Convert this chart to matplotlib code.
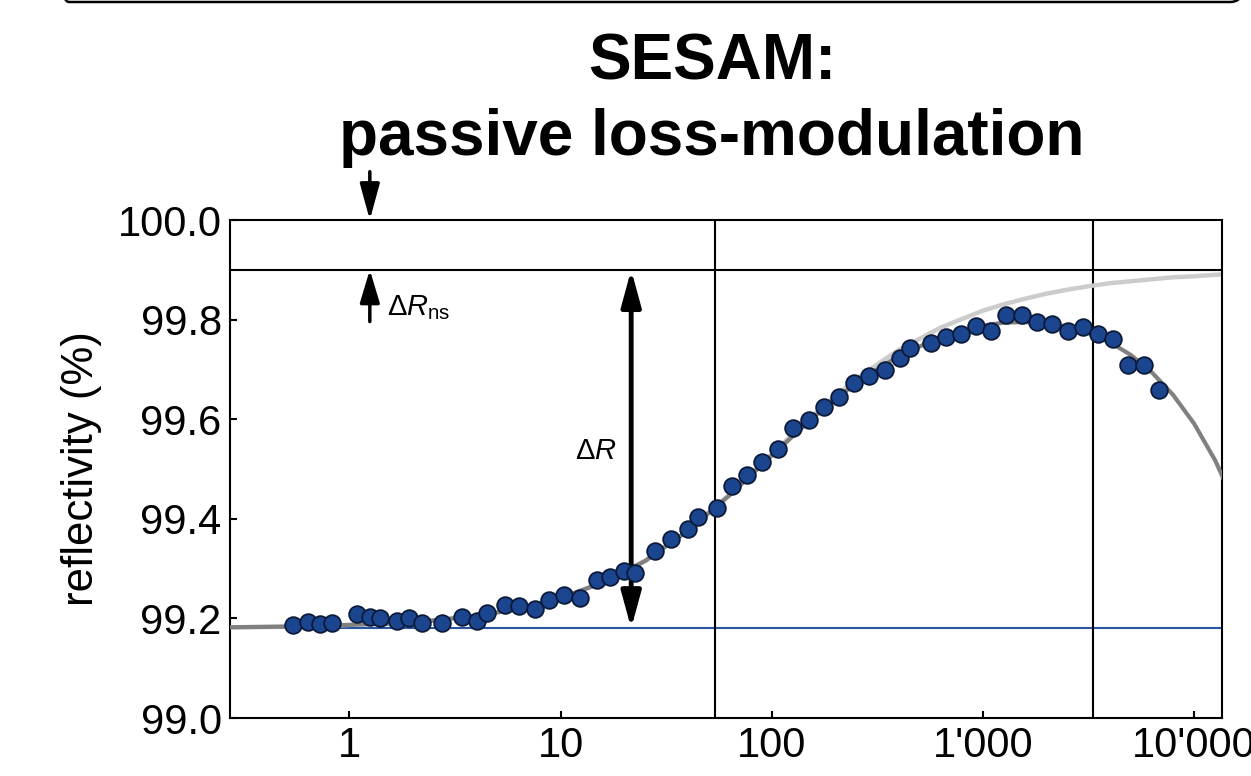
import matplotlib
matplotlib.use("Agg")
import matplotlib.pyplot as plt
from matplotlib.patches import FancyBboxPatch

plt.rcParams['font.family'] = ['Liberation Sans', 'DejaVu Sans']
plt.rcParams['mathtext.fontset'] = 'custom'
plt.rcParams['mathtext.rm'] = 'Liberation Sans'
plt.rcParams['mathtext.it'] = 'Liberation Sans:italic'

# measured points: fluence (uJ/cm^2) vs reflectivity (%)
fluence = [0.54, 0.64, 0.727, 0.831, 1.09, 1.25, 1.39, 1.69, 1.92, 2.22,
           2.75, 3.41, 4.01, 4.47, 5.46, 6.36, 7.55, 8.82, 10.4, 12.3,
           14.9, 17.1, 19.9, 22.5, 28.1, 33.4, 40.0, 44.9, 54.9, 64.7,
           76.6, 90.3, 107.5, 126.6, 149.7, 176.3, 208.9, 246.1, 288.9, 342.8,
           406.3, 451.6, 565.9, 666.7, 785, 931, 1096, 1291, 1527, 1797,
           2131, 2521, 2968, 3496, 4130, 4881, 5792, 6843]
refl = [99.187, 99.192, 99.188, 99.191, 99.208, 99.202, 99.201, 99.195, 99.201, 99.190,
        99.191, 99.203, 99.195, 99.210, 99.226, 99.224, 99.218, 99.236, 99.246, 99.241,
        99.277, 99.283, 99.295, 99.292, 99.335, 99.359, 99.380, 99.404, 99.422, 99.466,
        99.488, 99.514, 99.541, 99.583, 99.598, 99.625, 99.645, 99.672, 99.686, 99.699,
        99.722, 99.742, 99.754, 99.765, 99.771, 99.787, 99.778, 99.809, 99.810, 99.795,
        99.792, 99.777, 99.785, 99.771, 99.761, 99.708, 99.709, 99.658]

# fit curves
fit_F = [0.251, 0.398, 0.631, 1.0, 1.585, 2.512, 3.981, 6.31, 10.0, 15.85,
         25.12, 39.81, 63.1, 100, 158.5, 251.2, 398.1, 631, 1000, 1259,
         1585, 1995, 2512, 3162, 3981, 5012, 6310, 7943, 10000, 12590, 15850]
fit_sat = [99.182, 99.183, 99.184, 99.187, 99.190, 99.196, 99.205, 99.219, 99.241, 99.272,
           99.316, 99.376, 99.449, 99.530, 99.610, 99.681, 99.739, 99.784, 99.818, 99.831,
           99.842, 99.852, 99.860, 99.867, 99.873, 99.877, 99.881, 99.885, 99.887, 99.890, 99.891]
fit_tpa = [99.182, 99.183, 99.184, 99.187, 99.190, 99.196, 99.205, 99.219, 99.241, 99.272,
           99.315, 99.375, 99.447, 99.527, 99.605, 99.673, 99.727, 99.765, 99.788, 99.794,
           99.795, 99.793, 99.786, 99.773, 99.755, 99.729, 99.694, 99.649, 99.591, 99.517, 99.423]

R_ns = 99.90
R_lin = 99.18
v_lines = [54.0, 3315]
xticks = [1, 10, 100, 1000, 10000]
xticklabels = ["1", "10", "100", "1'000", "10'000"]
yticks = [99.0, 99.2, 99.4, 99.6, 99.8, 100.0]
arrow_x = 1.25
dR_x = 21.6

fig = plt.figure(figsize=(12.51, 7.76), dpi=100)
ax = fig.add_axes([230/1251, 58/776, 992/1251, 498/776])

ax.plot(fit_F, fit_sat, color='#cccccc', lw=3.2, zorder=2)
ax.plot(fit_F, fit_tpa, color='#808080', lw=3, zorder=3)
ax.axhline(R_lin, color='#2a55a5', lw=1.5, zorder=1)
ax.axhline(R_ns, color='k', lw=1.5, zorder=1)
for v in v_lines:
    ax.axvline(v, color='k', lw=1.5, zorder=1)
ax.plot(fluence, refl, 'o', ms=12, mfc='#1c4590', mec='#0b1a38', mew=1.3, zorder=5)

ax.set_xscale('log')
ax.set_xlim(0.2722, 13550)
ax.set_ylim(99.0, 100.0)
ax.set_xticks(xticks)
ax.set_xticklabels(xticklabels)
ax.minorticks_off()
ax.set_yticks(yticks)
ax.set_yticklabels([f"{t:.1f}" for t in yticks])
ax.tick_params(direction='in', length=5, width=1.5, labelsize=30, pad=6,
               top=False, right=False)
for s in ax.spines.values():
    s.set_linewidth(1.5)
ax.set_ylabel('reflectivity (%)', fontsize=31.5)
ax.yaxis.set_label_coords(-0.129, 0.5)

# arrows
ax.annotate('', xy=(arrow_x, 100.0), xytext=(arrow_x, 100.097), annotation_clip=False,
            arrowprops=dict(arrowstyle='-|>,head_length=1.1,head_width=0.3', lw=2.5,
                            color='k', shrinkA=0, shrinkB=0, mutation_scale=20))
ax.annotate('', xy=(arrow_x, R_ns), xytext=(arrow_x, 99.796),
            arrowprops=dict(arrowstyle='-|>,head_length=1.0,head_width=0.3', lw=2.5,
                            color='k', shrinkA=0, shrinkB=0, mutation_scale=20))
ax.annotate('', xy=(dR_x, R_ns), xytext=(dR_x, R_lin),
            arrowprops=dict(arrowstyle='<|-|>,head_length=1.1,head_width=0.3', lw=3.5,
                            color='k', shrinkA=0, shrinkB=0, mutation_scale=20))
ax.text(1.5, 99.825, r'$\Delta R_{\mathrm{ns}}$', fontsize=21, ha='left', va='center')
ax.text(18.5, 99.536, r'$\Delta R$', fontsize=21, ha='right', va='center')

fig.text(712/1251, 1 - 79/776, 'SESAM:', fontsize=46, fontweight='bold',
         ha='center', va='baseline')
fig.text(712/1251, 1 - 155/776, 'passive loss-modulation', fontsize=46,
         fontweight='bold', ha='center', va='baseline')

# edge of the framing box above
fig.patches.append(FancyBboxPatch((0.57, 7.74), 11.85, 1.0,
                                  boxstyle='round,pad=0,rounding_size=0.12',
                                  transform=fig.dpi_scale_trans, fill=False,
                                  lw=1.8, ec='k', clip_on=False))

fig.savefig('out.png', dpi=100)
